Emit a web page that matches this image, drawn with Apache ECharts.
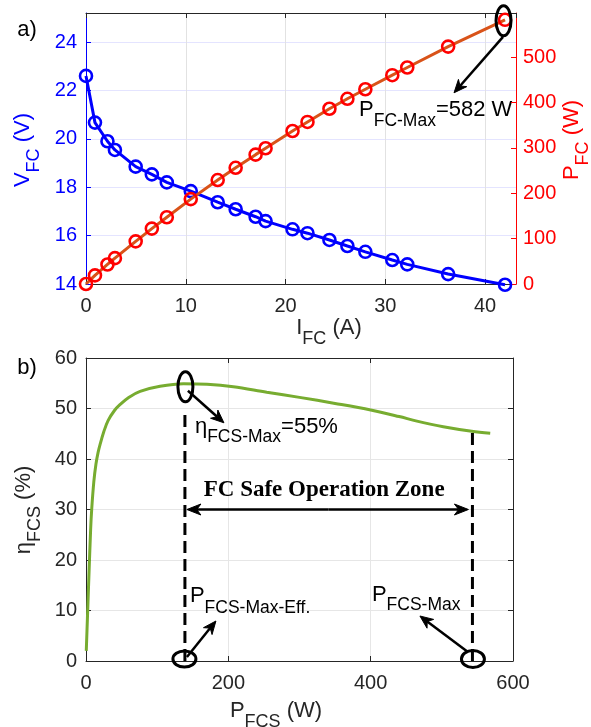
<!DOCTYPE html>
<html><head><meta charset="utf-8">
<script src="https://cdn.jsdelivr.net/npm/echarts@6/dist/echarts.min.js"></script>
<style>html,body{margin:0;padding:0;background:#fff}#c{width:591px;height:727px}</style>
</head><body><div id="c"></div><script>
// ---- data (a) ----
const currentA = [0, 0.9, 2.15, 2.9, 4.98, 6.6, 8.1, 10.5, 13.2, 15.0, 17.0, 18.0, 20.7, 22.2, 24.4, 26.2, 28.0, 30.7, 32.2, 36.3, 42.0];
const voltageV = [22.6, 20.67, 19.9, 19.54, 18.85, 18.53, 18.2, 17.84, 17.38, 17.09, 16.78, 16.6, 16.26, 16.1, 15.82, 15.57, 15.33, 14.99, 14.81, 14.41, 13.97];
const powerW   = [0, 19, 43, 57, 94, 122, 147, 187, 229, 256, 285, 299, 337, 357, 386, 408, 429, 460, 477, 523, 582];
// ---- data (b) ----
const pFcs   = [0.4, 2, 4, 6.5, 8, 11, 14, 17, 20, 25, 31, 40, 48, 60, 76, 104, 137, 170, 207, 254, 300, 350, 400, 440, 465, 502, 542, 568];
const etaFcs = [2, 8.5, 16.5, 26, 30, 35.5, 39.0, 41.3, 43.0, 45.4, 47.6, 49.6, 50.8, 52.2, 53.4, 54.4, 54.9, 54.8, 54.3, 53.2, 52.2, 51.0, 49.7, 48.4, 47.5, 46.4, 45.5, 45.1];
// ---- annotation anchors ----
const pFcMaxPoint = [42.0, 582];
const pMaxEff = 139, pMaxEffTop = 49.5;
const pMaxOp = 543, pMaxOpTop = 45.3;
const etaMaxPoint = [139, 54.3];
const safeZoneEta = 30;

const FONT = '"Liberation Sans", Arial, sans-serif';
const DARK = '#262626';

const chart = echarts.init(document.getElementById('c'), null, {renderer:'canvas'});

function axisBase(extra){
  return Object.assign({
    type:'value',
    axisLine:{show:true, onZero:false, lineStyle:{color:DARK, width:1}},
    axisTick:{show:true, inside:true, length:5, lineStyle:{color:DARK}},
    axisLabel:{show:true, fontSize:20, fontFamily:FONT, color:DARK, showMaxLabel:false},
    splitLine:{show:false}
  }, extra);
}

const option = {
  animation:false,
  backgroundColor:'#fff',
  grid:[
    {left:86, top:13, width:430, height:271, outerBoundsMode:'none'},
    {left:86, top:358, width:427, height:303, outerBoundsMode:'none'}
  ],
  xAxis:[
    axisBase({gridIndex:0, position:'bottom', min:0, max:43.1, interval:10,
      axisLabel:{fontSize:20, fontFamily:FONT, color:DARK, margin:12, showMaxLabel:false},
      splitLine:{show:true, lineStyle:{color:'#e2e2e2', width:1}}}),
    axisBase({gridIndex:0, position:'top', min:0, max:43.1, interval:10, axisLabel:{show:false}}),
    axisBase({gridIndex:1, position:'bottom', min:0, max:600, interval:200,
      axisLabel:{fontSize:20, fontFamily:FONT, color:DARK, margin:12},
      splitLine:{show:true, lineStyle:{color:'#e6e6e6', width:1}}}),
    axisBase({gridIndex:1, position:'top', min:0, max:600, interval:200, axisLabel:{show:false}})
  ],
  yAxis:[
    axisBase({gridIndex:0, position:'left', min:14, max:25.2, interval:2,
      axisLine:{show:true, onZero:false, lineStyle:{color:'#0000ff', width:1}},
      axisTick:{show:true, inside:true, length:5, lineStyle:{color:'#0000ff'}},
      axisLabel:{fontSize:20, fontFamily:FONT, color:'#0000ff', margin:9, showMaxLabel:false},
      splitLine:{show:true, lineStyle:{color:'#e4e4ff', width:1}}}),
    axisBase({gridIndex:0, position:'right', min:0, max:597, interval:100,
      axisLine:{show:true, onZero:false, lineStyle:{color:'#ff0000', width:1}},
      axisTick:{show:true, inside:true, length:5, lineStyle:{color:'#ff0000'}},
      axisLabel:{fontSize:20, fontFamily:FONT, color:'#ff0000', margin:7, showMaxLabel:false}}),
    axisBase({gridIndex:1, position:'left', min:0, max:60, interval:10,
      axisLabel:{fontSize:20, fontFamily:FONT, color:DARK, margin:9},
      splitLine:{show:true, lineStyle:{color:'#e6e6e6', width:1}}}),
    axisBase({gridIndex:1, position:'right', min:0, max:60, interval:10, axisLabel:{show:false}})
  ],
  series:[
    {type:'line', xAxisIndex:0, yAxisIndex:0, data: currentA.map((v,i)=>[v, voltageV[i]]),
      symbol:'circle', symbolSize:12, z:3, clip:false,
      lineStyle:{color:'#0000ff', width:3},
      itemStyle:{color:'rgba(0,0,0,0)', borderColor:'#0000ff', borderWidth:2.6},
      emphasis:{disabled:true}},
    {type:'line', xAxisIndex:0, yAxisIndex:1, data: currentA.map((v,i)=>[v, powerW[i]]),
      symbol:'circle', symbolSize:12, z:4, clip:false,
      lineStyle:{color:'#d95319', width:3},
      itemStyle:{color:'rgba(0,0,0,0)', borderColor:'#ff0000', borderWidth:2.6},
      emphasis:{disabled:true}},
    {type:'line', xAxisIndex:2, yAxisIndex:2, data: pFcs.map((v,i)=>[v, etaFcs[i]]),
      symbol:'none', smooth:0.35,
      lineStyle:{color:'#77ac30', width:3}, emphasis:{disabled:true}},
    {type:'line', xAxisIndex:2, yAxisIndex:2, data:[[pMaxEff,0],[pMaxEff,pMaxEffTop]],
      symbol:'none', lineStyle:{color:'#000', width:3, type:[12,6]}, emphasis:{disabled:true}},
    {type:'line', xAxisIndex:2, yAxisIndex:2, data:[[pMaxOp,0],[pMaxOp,pMaxOpTop]],
      symbol:'none', lineStyle:{color:'#000', width:3, type:[12,6]}, emphasis:{disabled:true}}
  ]
};
chart.setOption(option);

// ---- annotations ----
const ctx = document.createElement('canvas').getContext('2d');
function tw(t, size, fam, weight){ ctx.font = (weight||'normal')+' '+size+'px '+fam; return ctx.measureText(t).width; }
function label(x, y, parts, o){
  o = Object.assign({size:22, sub:18, dy:11, color:'#000', fam:FONT, rot:0, align:'left', weight:'normal'}, o||{});
  let cx = 0; const children = [];
  parts.forEach(([t, s])=>{
    const size = s ? o.sub : o.size;
    children.push({type:'text', x:cx, y: s ? o.dy : 0,
      style:{text:t, fontSize:size, fontFamily:o.fam, fontWeight:o.weight, fill:o.color, align:'left', verticalAlign:'middle'}});
    cx += tw(t, size, o.fam, o.weight);
  });
  const off = o.align==='center' ? -cx/2 : 0;
  children.forEach(c=>{ c.x += off; });
  return {type:'group', x, y, rotation:o.rot, z:100, children};
}
function arrow(x1,y1,x2,y2,lw,hl,hw){
  lw = lw||2.5; hl = hl||13; hw = hw||5.5;
  const a = Math.atan2(y2-y1, x2-x1), c = Math.cos(a), s = Math.sin(a);
  const bx = x2-hl*c, by = y2-hl*s;
  const nx = x2-hl*0.7*c, ny = y2-hl*0.7*s;
  return [
    {type:'line', z:100, shape:{x1,y1,x2:nx,y2:ny}, style:{stroke:'#000', lineWidth:lw}},
    {type:'polygon', z:100, shape:{points:[[x2,y2],[bx-hw*s, by+hw*c],[nx,ny],[bx+hw*s, by-hw*c]]}, style:{fill:'#000', stroke:'#000', lineWidth:1}}
  ];
}
function ell(cx, cy, rx, ry){
  return {type:'ellipse', z:100, shape:{cx, cy, rx, ry}, style:{fill:'none', stroke:'#000', lineWidth:3}};
}

const A = chart.convertToPixel({seriesIndex:1}, pFcMaxPoint);
const E = chart.convertToPixel({seriesIndex:2}, etaMaxPoint);
const L = chart.convertToPixel({seriesIndex:2}, [pMaxEff, 0]);
const R = chart.convertToPixel({seriesIndex:2}, [pMaxOp, 0]);
const Z1 = chart.convertToPixel({seriesIndex:2}, [pMaxEff, safeZoneEta]);
const Z2 = chart.convertToPixel({seriesIndex:2}, [pMaxOp, safeZoneEta]);

const g = [];
// panel letters
g.push({type:'text', x:27, y:30, z:100, style:{text:'a)', fontSize:22, fontFamily:FONT, fill:'#000', align:'center', verticalAlign:'middle'}});
g.push({type:'text', x:27, y:368, z:100, style:{text:'b)', fontSize:22, fontFamily:FONT, fill:'#000', align:'center', verticalAlign:'middle'}});
// axis names
g.push(label(23, 150, [['V',0],['FC',1],[' (V)',0]], {color:'#0000ff', rot:Math.PI/2, align:'center'}));
g.push(label(572, 140, [['P',0],['FC',1],[' (W)',0]], {color:'#ff0000', rot:Math.PI/2, align:'center'}));
g.push(label(329, 328, [['I',0],['FC',1],[' (A)',0]], {color:DARK, align:'center'}));
g.push(label(276, 711, [['P',0],['FCS',1],[' (W)',0]], {color:DARK, align:'center'}));
g.push(label(24, 510, [['η',0],['FCS',1],[' (%)',0]], {color:DARK, rot:Math.PI/2, align:'center'}));

// (a) P max annotation
g.push(ell(A[0]-1.5, A[1]+1, 7.5, 15));
g.push(...arrow(A[0]-2, A[1]+17, A[0]-51, A[1]+73));
g.push(label(A[0]-146, A[1]+90, [['P',0],['FC-Max',1],['=582 W',0]], {sub:17.5, dy:11.5}));

// (b) eta max annotation
g.push(ell(E[0]+0.5, E[1], 7.5, 15));
g.push(...arrow(E[0]+3, E[1]+4, E[0]+39, E[1]+36));
g.push(label(E[0]+10, E[1]+40, [['η',0],['FCS-Max',1],['=55%',0]], {sub:17.5, dy:10}));

// safe zone
g.push(...arrow((Z1[0]+Z2[0])/2, Z1[1], Z1[0]+2, Z1[1], 2.5, 14, 5.5));
g.push(...arrow((Z1[0]+Z2[0])/2, Z1[1], Z2[0]-4, Z2[1], 2.5, 14, 5.5));
g.push({type:'text', z:100, x:(Z1[0]+Z2[0])/2-4.5, y:Z1[1]-19,
  style:{text:'FC Safe Operation Zone', fontSize:23, fontWeight:'bold', fontFamily:'"Liberation Serif", "Times New Roman", serif', fill:'#000', align:'center', verticalAlign:'middle'}});

// bottom markers
g.push(ell(L[0]-0.5, L[1]-2, 11.5, 8));
g.push(...arrow(L[0]+2, L[1]-4, L[0]+31, L[1]-40));
g.push(label(L[0]+5, L[1]-65.5, [['P',0],['FCS-Max-Eff.',1]], {sub:17.5, dy:13}));

g.push(ell(R[0]+0.5, R[1]-2, 11.5, 8.5));
g.push(...arrow(R[0]-4.5, R[1]-9, R[0]-52.5, R[1]-45));
g.push(label(R[0]-100.5, R[1]-66.5, [['P',0],['FCS-Max',1]], {sub:17.5, dy:11}));

chart.setOption({graphic:{elements:g}});
</script></body></html>
